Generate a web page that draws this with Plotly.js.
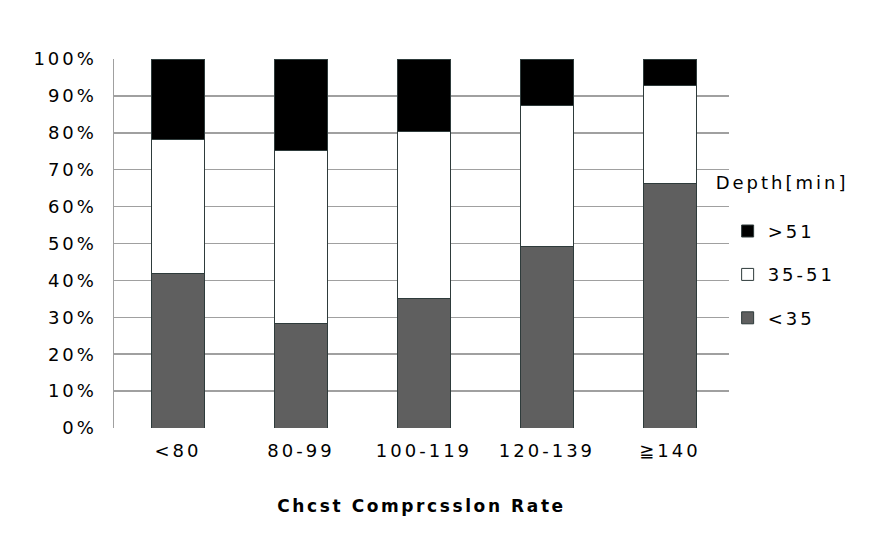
<!DOCTYPE html>
<html>
<head>
<meta charset="utf-8">
<script src="https://cdn.plot.ly/plotly-3.0.1.min.js"></script>
<style>
  html, body { margin: 0; padding: 0; background: #fff; }
  #chart { width: 887px; height: 556px; }
  .main-svg text { letter-spacing: 3px; }
  .main-svg .xtitle { letter-spacing: 2.6px; }
  .legend .scrollbox, .legend { clip-path: none !important; }
</style>
</head>
<body>
<div id="chart"></div>
<script>
const categories = ["<80", "80-99", "100-119", "120-139", "\u2267140"];
const below35 = [42.0, 28.4, 35.0, 49.3, 66.2];
const from35to51 = [36.2, 46.9, 45.3, 38.2, 26.6];
const above51 = [21.8, 24.7, 19.7, 12.5, 7.2];
const seriesNames = ["<35", "35-51", ">51"];
const yTickVals = [0, 10, 20, 30, 40, 50, 60, 70, 80, 90, 100];
const yTickText = yTickVals.map(v => v + "%");

const outline = { color: "#2e3b3b", width: 1 };
const font = { family: "DejaVu Sans, Verdana, sans-serif", size: 18, color: "#000" };

const traces = [
  { name: seriesNames[0], y: below35, color: "#5f5f5f", group: "a", rank: 3 },
  { name: seriesNames[1], y: from35to51, color: "#ffffff", group: "b", rank: 2 },
  { name: seriesNames[2], y: above51, color: "#000000", group: "c", rank: 1 }
].map(s => ({
  type: "bar",
  x: categories,
  y: s.y,
  name: s.name,
  legendgroup: s.group,
  legendrank: s.rank,
  marker: { color: s.color, line: outline },
  hoverinfo: "skip"
}));

const layout = {
  width: 887,
  height: 556,
  barmode: "stack",
  bargap: 0.57,
  paper_bgcolor: "#fff",
  plot_bgcolor: "#fff",
  font: font,
  margin: { l: 114, r: 158, t: 59, b: 128 },
  xaxis: {
    type: "category",
    range: [-0.52, 4.48],
    showgrid: false,
    showline: false,
    ticks: "",
    ticklabelstandoff: 10,
    tickfont: font,
    title: { text: "<b>Chcst Comprcsslon Rate</b>", font: { family: font.family, size: 17, color: "#000" }, standoff: 40 }
  },
  yaxis: {
    range: [0, 100],
    tickmode: "array",
    tickvals: yTickVals,
    ticktext: yTickText,
    showgrid: true,
    gridcolor: "#a0a0a0",
    gridwidth: 1.5,
    showline: true,
    linecolor: "#a0a0a0",
    linewidth: 1.5,
    zeroline: false,
    ticks: "",
    ticklabelstandoff: 12,
    tickfont: font
  },
  showlegend: true,
  legend: {
    x: 0.975,
    xanchor: "left",
    y: 0.71,
    yanchor: "top",
    traceorder: "grouped",
    tracegroupgap: 17,
    indentation: 14,
    bgcolor: "rgba(0,0,0,0)",
    font: font,
    title: { text: "Depth[min]<br> ", font: font }
  }
};

Plotly.newPlot("chart", traces, layout, { displayModeBar: false, staticPlot: true });
</script>
</body>
</html>
